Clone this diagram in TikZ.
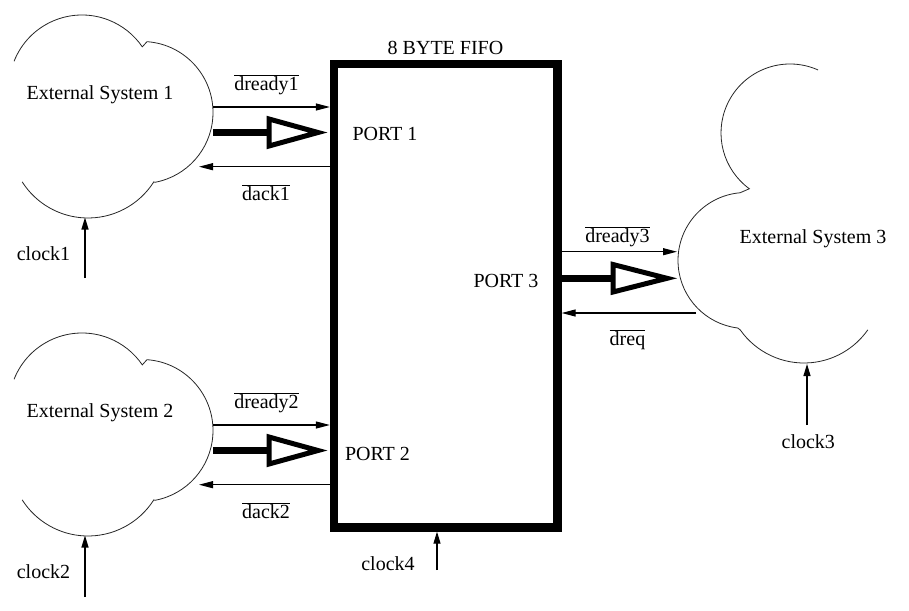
\documentclass[tikz,border=0pt]{standalone}
\usepackage{fontspec}
\setmainfont{Liberation Serif}
\usetikzlibrary{arrows.meta}
\begin{document}
\begin{tikzpicture}[x=1pt,y=1pt,
  cloud/.style={draw=black!85,line width=0.8pt},
  sig/.style={line width=1.2pt,-{Triangle[length=14pt,width=7pt]}},
  clk/.style={line width=1.2pt,-{Triangle[length=12pt,width=7pt]}},
  bus/.style={line width=6.5pt},
  tri/.style={line width=5pt,line join=miter},
  lbl/.style={anchor=base,inner sep=0pt,font=\fontsize{20}{24}\selectfont},
  fifobox/.style={draw,line width=8.3pt,minimum width=223.5pt,minimum height=463.8pt,inner sep=0pt}]
\useasboundingbox (0,0) rectangle (909,-610);

% FIFO box
\node[fifobox] (fifo) at (445.75,-295.6) {};
\node[lbl] (title) at (445.5,-55) {8 BYTE FIFO};
\node[lbl] (p1) at (385,-140.7) {PORT 1};
\node[lbl] (p2) at (377.5,-460.7) {PORT 2};
\node[lbl] (p3) at (506,-287.3) {PORT 3};

% Cloud 1
\draw[cloud] ([shift={(158.5:73)}]82,-88) arc (158.5:34.3:73)
  -- ([shift={(86:71)}]142,-112.5) arc (86:-79.4:71)
  -- ([shift={(-32.5:78)}]88,-140) arc (-32.5:-147.5:78);
\node[lbl] (es1) at (100,-99) {External System 1};
% Cloud 2
\begin{scope}[yshift=-318pt]
\draw[cloud] ([shift={(158.5:73)}]82,-88) arc (158.5:34.3:73)
  -- ([shift={(86:71)}]142,-112.5) arc (86:-79.4:71)
  -- ([shift={(-32.5:78)}]88,-140) arc (-32.5:-147.5:78);
\end{scope}
\node[lbl] (es2) at (100,-417) {External System 2};
% Cloud 3
\draw[cloud] ([shift={(66:69)}]790,-133) arc (66:233.9:69)
  -- ([shift={(95:68)}]746,-260.5) arc (95:263:68)
  -- ([shift={(215.1:78)}]804,-285) arc (215.1:324.9:78);
\node[lbl] (es3) at (813,-243) {External System 3};

% coordinates on clouds
\coordinate (c1a) at (213,-107);
\coordinate (c1b) at (213,-132.5);
\coordinate (c1c) at (199,-166.7);
\coordinate (t1) at (269,-132.5);
\coordinate (c2a) at (213,-425);
\coordinate (c2b) at (213,-450.5);
\coordinate (c2c) at (199,-484.7);
\coordinate (t2) at (269,-450.5);
\coordinate (c3a) at (677,-251.7);
\coordinate (c3c) at (696,-313);
\coordinate (t3) at (613,-278.3);

% Port 1 signals
\draw[sig] (c1a) -- (c1a -| fifo.west);
\draw[sig] (c1c -| fifo.west) -- (c1c);
\draw[bus] (c1b) -- (t1);
\draw[tri] (269,-119) -- (269,-146) -- (318,-132.5) -- cycle;
\node[lbl] (d1) at (266.5,-90) {$\overline{\mbox{dready1}}$};
\node[lbl] (k1) at (266,-200) {$\overline{\mbox{dack1}}$};

% Port 2 signals
\draw[sig] (c2a) -- (c2a -| fifo.west);
\draw[sig] (c2c -| fifo.west) -- (c2c);
\draw[bus] (c2b) -- (t2);
\draw[tri] (269,-437) -- (269,-464) -- (318,-450.5) -- cycle;
\node[lbl] (d2) at (266.5,-408.3) {$\overline{\mbox{dready2}}$};
\node[lbl] (k2) at (266,-518.3) {$\overline{\mbox{dack2}}$};

% Port 3 signals
\draw[sig] (c3a -| fifo.east) -- (c3a);
\draw[sig] (c3c) -- (c3c -| fifo.east);
\draw[bus] (t3 -| fifo.east) -- (t3);
\draw[tri] (613,-264.5) -- (613,-292) -- (667,-278.3) -- cycle;
\node[lbl] (d3) at (617.5,-242.7) {$\overline{\mbox{dready3}}$};
\node[lbl] (rq) at (627.5,-345) {$\overline{\mbox{dreq}}$};

% clocks
\coordinate (k1s) at (85,-278);
\coordinate (k1e) at (85,-217.5);
\draw[clk] (k1s) -- (k1e);
\node[lbl] (clk1) at (43.5,-260) {clock1};
\coordinate (k2s) at (85,-597);
\coordinate (k2e) at (85,-535.5);
\draw[clk] (k2s) -- (k2e);
\node[lbl] (clk2) at (43.5,-578) {clock2};
\coordinate (k3s) at (807,-425);
\coordinate (k3e) at (807,-364);
\draw[clk] (k3s) -- (k3e);
\node[lbl] (clk3) at (808.3,-448.3) {clock3};
\coordinate (k4s) at (437,-570);
\draw[clk] (k4s) -- (k4s |- fifo.south);
\node[lbl] (clk4) at (388,-570.7) {clock4};
\end{tikzpicture}
\end{document}
